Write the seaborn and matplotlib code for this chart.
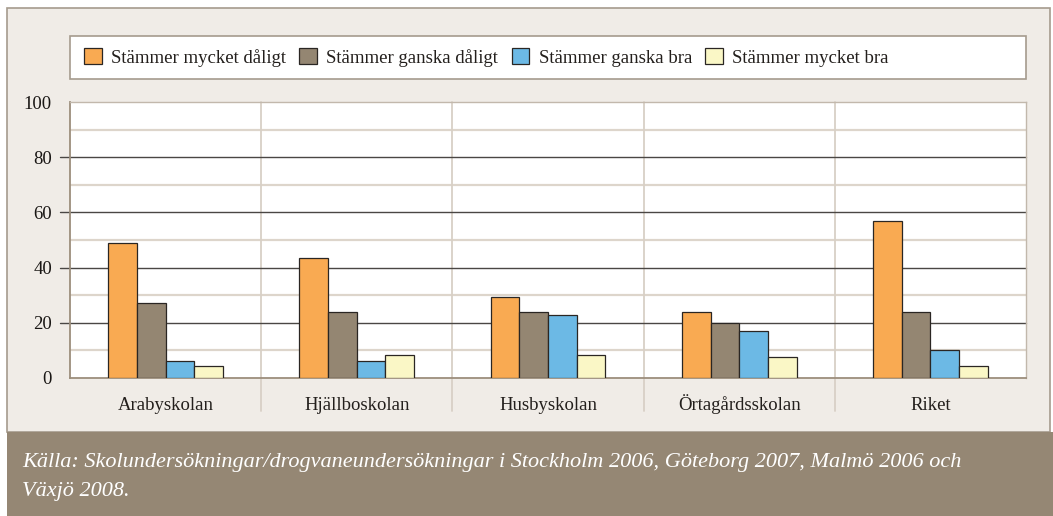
import numpy as np
import pandas as pd
import matplotlib
matplotlib.use("Agg")
import matplotlib.pyplot as plt
from matplotlib.patches import Rectangle, Patch
import seaborn as sns

# data =====================================================================
schools = ['Arabyskolan', 'Hjällboskolan', 'Husbyskolan', 'Örtagårdsskolan', 'Riket']
series = ['Stämmer mycket dåligt', 'Stämmer ganska dåligt', 'Stämmer ganska bra', 'Stämmer mycket bra']
mycket_daligt = [49, 43.5, 29.5, 24, 57]
ganska_daligt = [27, 24, 24, 20, 24]
ganska_bra = [6, 6, 23, 17, 10]
mycket_bra = [4.5, 8.5, 8.5, 7.5, 4.5]
y_ticks = [0, 20, 40, 60, 80, 100]
source = ('Källa: Skolundersökningar/drogvaneundersökningar i Stockholm 2006, Göteborg 2007, Malmö 2006 och\n'
          'Växjö 2008.')

colors = ['#F9AA52', '#948672', '#6CB9E5', '#FAF7C6']

df = pd.DataFrame({
    'Skola': schools * 4,
    'Svar': np.repeat(series, len(schools)),
    'Andel': mycket_daligt + ganska_daligt + ganska_bra + mycket_bra,
})

# style ======================================================================
sns.set_theme(style='white')
plt.rcParams['font.family'] = ['Liberation Serif', 'DejaVu Serif']
txt_col = '#231f1c'
W, H = 1053, 516

fig = plt.figure(figsize=(W / 100, H / 100), dpi=100)
fig.patch.set_facecolor('white')

# beige panel and brown source band
fig.patches.append(Rectangle((7 / W, (H - 432) / H), (1050 - 7) / W, (432 - 8) / H,
                             transform=fig.transFigure, facecolor='#F0ECE7',
                             edgecolor='#A59B8D', lw=1.2, zorder=-3))
fig.patches.append(Rectangle((7 / W, 0), (W - 7) / W, (H - 432) / H,
                             transform=fig.transFigure, facecolor='#958774',
                             edgecolor='none', zorder=-2))
# legend box
fig.patches.append(Rectangle((70 / W, (H - 79) / H), (1026 - 70) / W, (79 - 36) / H,
                             transform=fig.transFigure, facecolor='white',
                             edgecolor='#A59B8D', lw=1.2, zorder=-1))

ax = fig.add_axes([70 / W, (H - 378) / H, (1026 - 70) / W, (378 - 102) / H])
ax.set_zorder(2)
ax.set_facecolor('white')

sns.barplot(data=df, x='Skola', y='Andel', hue='Svar', hue_order=series,
            palette=colors, width=0.6, edgecolor='#2A2623', linewidth=0.9,
            saturation=1, legend=False, ax=ax, zorder=3)

ax.set_ylim(0, 100)
ax.set_xlim(-0.5, len(schools) - 0.5)
ax.set_xlabel('')
ax.set_ylabel('')
ax.set_yticks(y_ticks)
ax.set_yticklabels([str(v) for v in y_ticks], fontsize=13.5, color='#1a1715')
ax.tick_params(axis='y', length=0, pad=13)
ax.tick_params(axis='x', length=0, pad=23, labelsize=13.5, labelcolor=txt_col)
for lab in ax.get_xticklabels():
    lab.set_verticalalignment('baseline')

# grid lines: light at odd tens, dark at the labelled ones (with outward stub)
for v in [10, 30, 50, 70, 90]:
    ax.axhline(v, color='#DDD5CB', lw=1.6, zorder=1)
for v in [20, 40, 60, 80]:
    ax.plot([-0.0105, 1], [v, v], transform=ax.get_yaxis_transform(),
            color='#4A4744', lw=1.0, clip_on=False, zorder=2)

# separators between the schools, running down into the label area
for i in range(1, len(schools)):
    ax.plot([i - 0.5, i - 0.5], [-0.12, 1], transform=ax.get_xaxis_transform(),
            color='#D8D0C6', lw=1.3, clip_on=False, zorder=1)

for side in ['top', 'right']:
    ax.spines[side].set_color('#C2B8AC')
    ax.spines[side].set_linewidth(1.0)
for side in ['left', 'bottom']:
    ax.spines[side].set_color('#9C8E7C')
    ax.spines[side].set_linewidth(1.3)

# legend ======================================================================
handles = [Patch(facecolor=c, edgecolor='#2A2623', lw=0.9) for c in colors]
leg = fig.legend(handles, series, loc='center left',
                 bbox_to_anchor=(84 / W, 1 - 57.5 / H), ncol=4, frameon=False,
                 fontsize=13.5, labelcolor=txt_col, handlelength=0.95, handleheight=0.95,
                 handletextpad=0.5, columnspacing=0.7, borderpad=0, borderaxespad=0)
leg.set_zorder(5)

# source ======================================================================
fig.text(22 / W, 1 - 477 / H, source, color='white', fontsize=16, style='italic',
         va='center', ha='left', linespacing=1.7)

fig.savefig('out.png', dpi=100)
